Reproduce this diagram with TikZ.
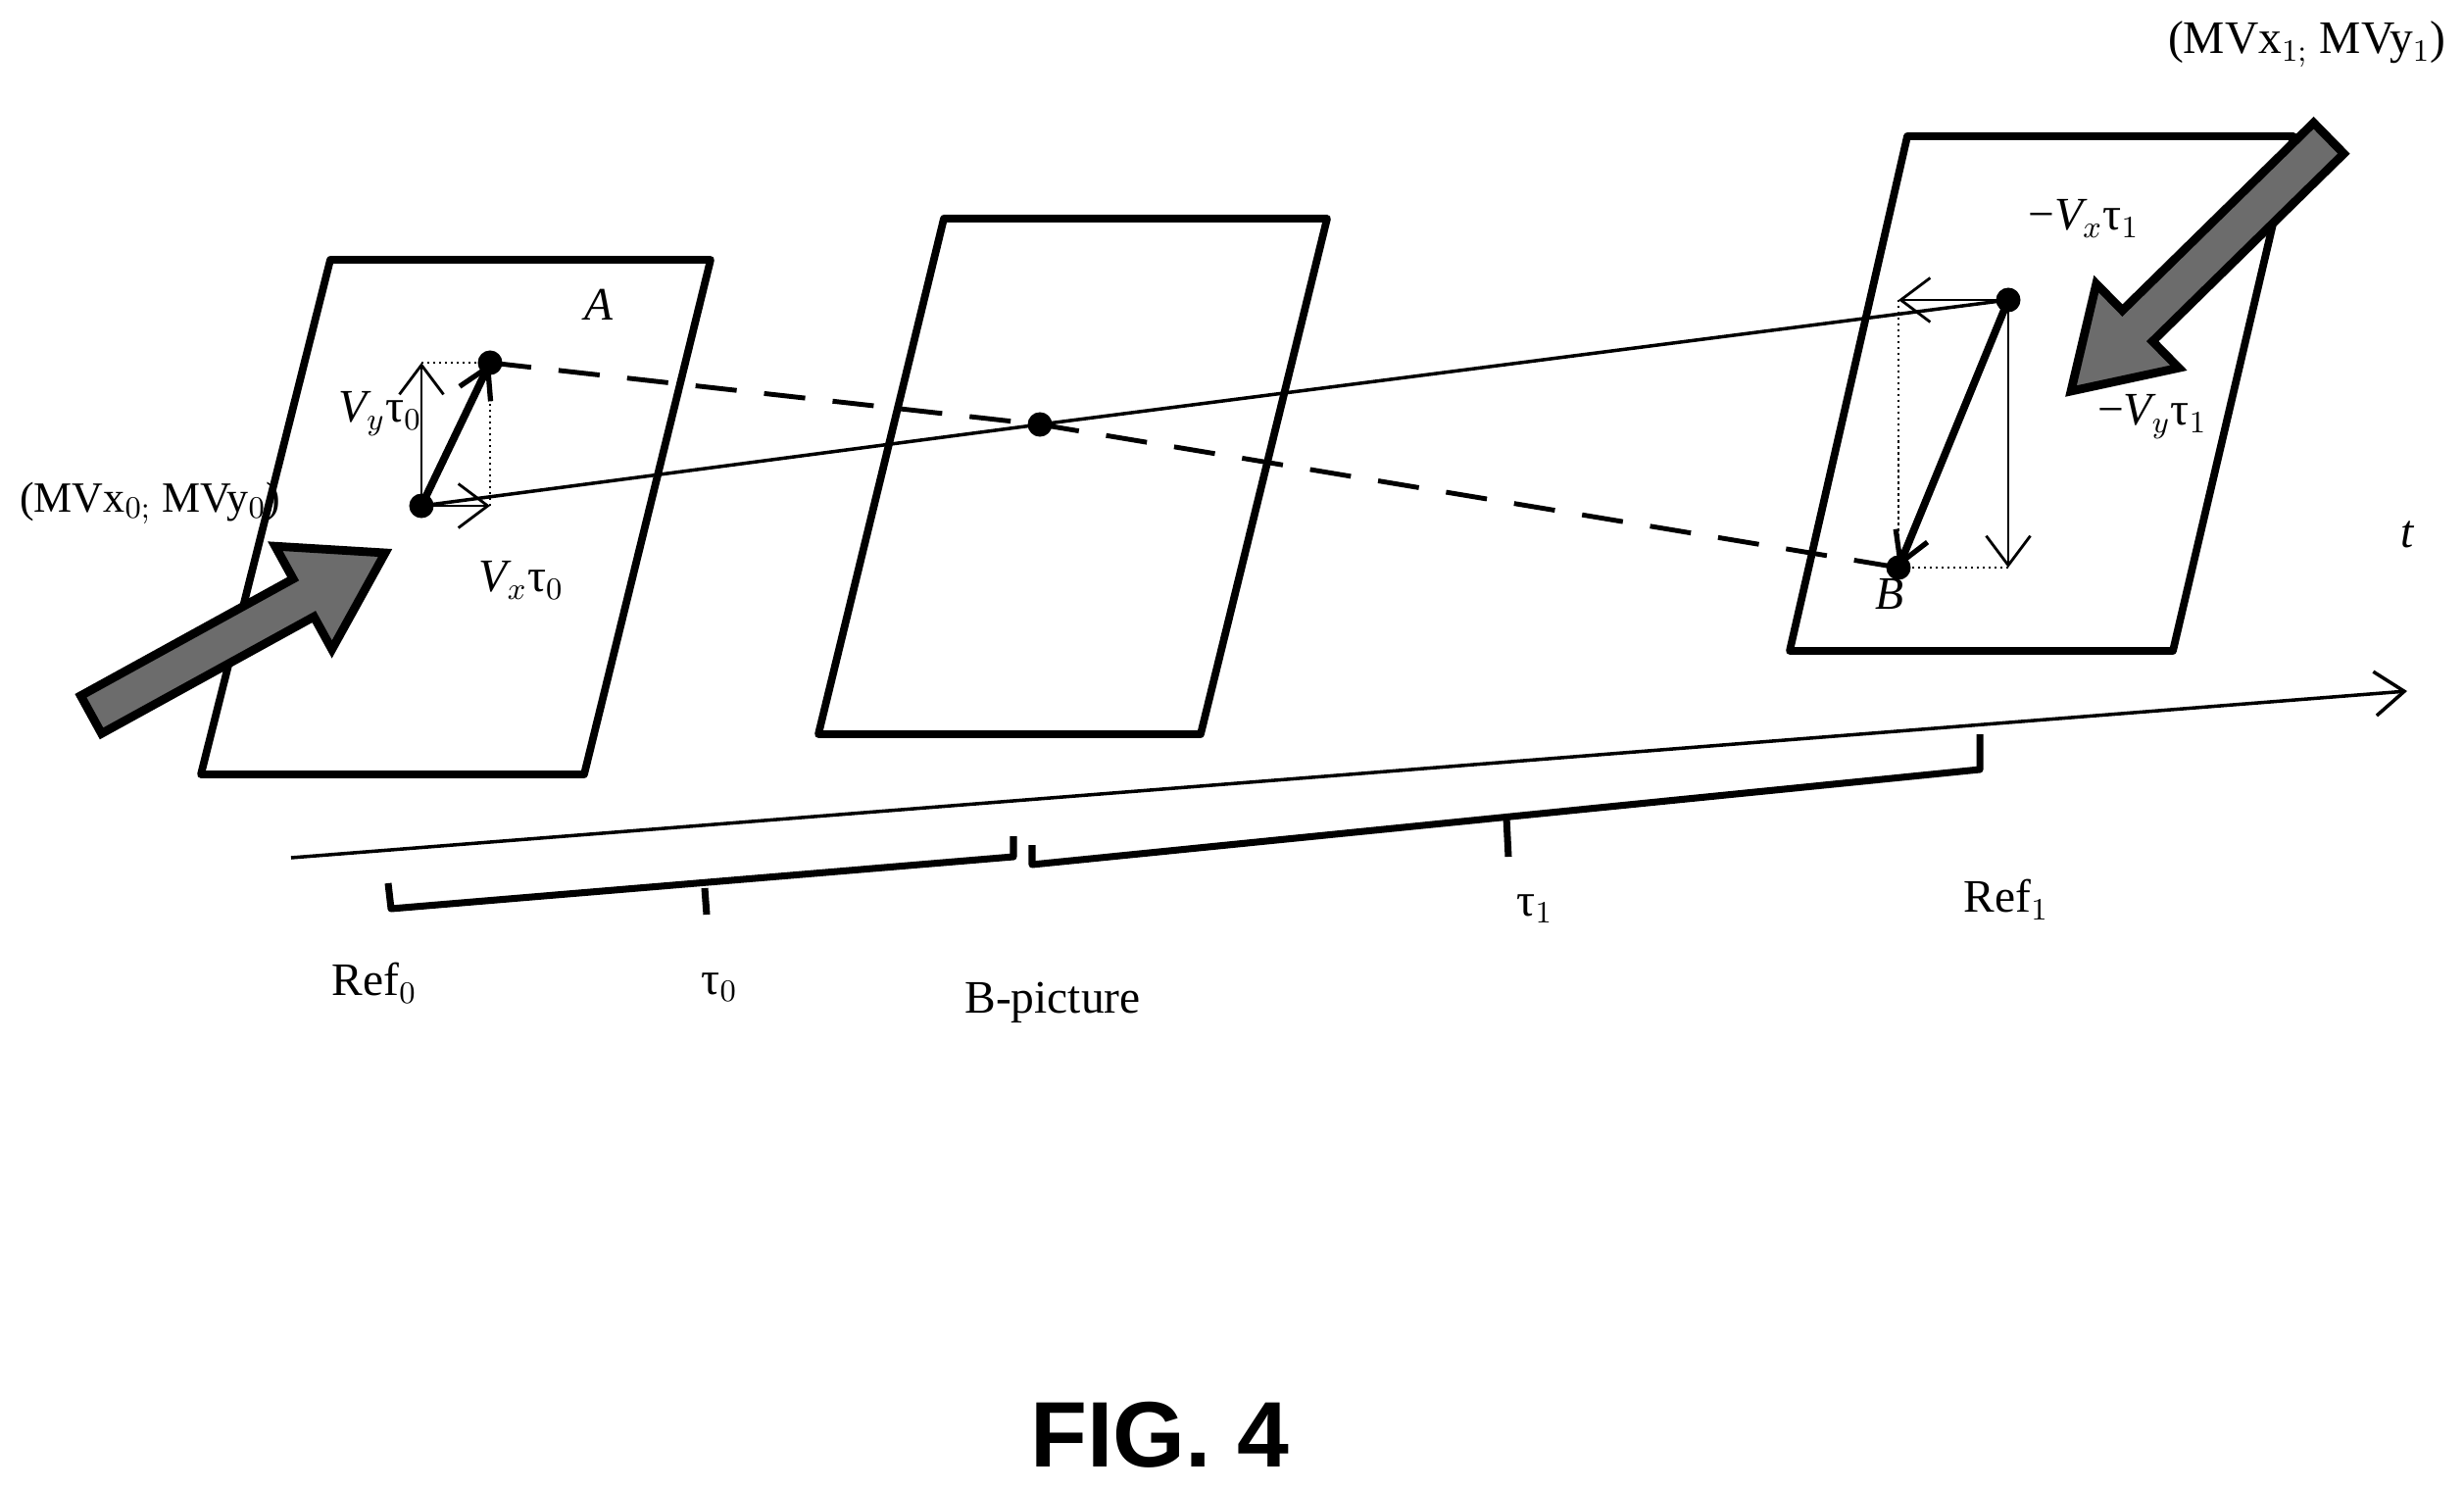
\documentclass[tikz,border=0pt]{standalone}
\usepackage{fontspec}
\setmainfont{Liberation Serif}
\newfontfamily\figfont{Liberation Sans}
\usetikzlibrary{calc,arrows.meta}
\begin{document}
\begin{tikzpicture}[x=0.01cm,y=-0.01cm,
  frame/.style={line width=2.2pt,line join=round},
  dot/.style={circle,fill=black,inner sep=0pt,minimum size=0.25cm},
  vec/.style={line width=2.2pt,-{Straight Barb[length=0.3cm,width=0.35cm,line width=1.5pt]}},
  comp/.style={line width=0.8pt,-{Straight Barb[length=0.3cm,width=0.45cm,line width=0.8pt]}},
  guide/.style={densely dotted,line width=0.7pt},
  brace/.style={line width=2pt,line join=round},
  big/.style={fill=gray!85!black,draw=black,line width=2.5pt,line join=miter},
  lbl/.style={font=\fontsize{13.5}{15}\selectfont,inner sep=1pt}]
\useasboundingbox (0,0) rectangle (2514,1521);
% frames
\draw[frame] (337,265)--(725,265)--(596,790)--(205,790)--cycle;
\draw[frame] (963,223)--(1354,223)--(1225,749)--(835,749)--cycle;
\draw[frame] (1946,139)--(2340,139)--(2217,664)--(1826,664)--cycle;
% points
\node[dot] (a0) at (430,516) {};
\node[dot] (a1) at (500,370) {};
\node[dot] (m) at (1061,433) {};
\node[dot] (r0) at (2049,306) {};
\node[dot] (b) at (1937,579) {};
\coordinate (ax) at (500,516);
\coordinate (ay) at (430,370);
\coordinate (rx) at (1937,306);
\coordinate (ry) at (2049,579);
% lines
\draw[line width=1pt] (a0.center) -- (m.center) -- (r0.center);
\draw[line width=1.4pt,dash pattern=on 12pt off 8pt] (a1.center) -- (m.center) -- (b.center);
\draw[guide] (ay) -- (a1.center);
\draw[guide] (ax) -- (a1.center);
\draw[guide] (rx) -- (b.center);
\draw[guide] (ry) -- (b.center);
\draw[comp] (a0.center) -- (ay);
\draw[comp] (a0.center) -- (ax);
\draw[comp] (r0.center) -- (rx);
\draw[comp] (r0.center) -- (ry);
\draw[vec] (a0.center) -- (a1.center);
\draw[vec] (r0.center) -- (b.center);
% big arrows
\coordinate (tl) at (93,729); \coordinate (hl) at (393,564);
\coordinate (tr) at (2376,141); \coordinate (hr) at (2113,399);
\foreach \t/\h in {tl/hl,tr/hr}{
  \coordinate (H) at ($(\h)!0.95cm!(\t)$);
  \draw[big] ($(\t)!0.22cm!90:(\h)$) -- ($(H)!0.22cm!-90:(\t)$) -- ($(H)!0.6cm!-90:(\t)$) -- (\h)
     -- ($(H)!0.6cm!90:(\t)$) -- ($(H)!0.22cm!90:(\t)$) -- ($(\t)!0.22cm!-90:(\h)$) -- cycle;
}
% time axis
\coordinate (t0) at (297,875); \coordinate (t1) at (2456,705);
\draw[line width=1pt,-{Straight Barb[length=0.3cm,width=0.45cm,line width=1pt]}] (t0) -- (t1);
% braces
\draw[brace] (396,901)--(399,927)--(1034,874)--(1034,853);
\draw[brace] (719,906)--(721,933);
\draw[brace] (1053,862)--(1053,882)--(2020,785)--(2020,749);
\draw[brace] (1537,834)--(1539,874);
% labels
\node[lbl] (lref0) at (382,1003) {Ref$_0$};
\node[lbl] (ltau0) at (734,1007) {τ$_0$};
\node[lbl] (lbp) at (1074,1023) {B-picture};
\node[lbl] (ltau1) at (1566,927) {τ$_1$};
\node[lbl] (lref1) at (2047,918) {Ref$_1$};
\node[lbl] (lt) at (2456,545) {\itshape t};
\node[lbl] (lA) at (611,311) {\itshape A};
\node[lbl] (lB) at (1928,606) {\itshape B};
\node[lbl] (lvy) at (388,422) {\itshape V$_y$\upshape τ$_0$};
\node[lbl] (lvx) at (532,592) {\itshape V$_x$\upshape τ$_0$};
\node[lbl] (lmvx) at (2126,223) {−\itshape V$_x$\upshape τ$_1$};
\node[lbl] (lmvy) at (2196,425) {−\itshape V$_y$\upshape τ$_1$};
\node[lbl,anchor=west,font=\fontsize{12.5}{14}\selectfont] (lmv0) at (16,513) {(MVx$_{0;}$ MVy$_0$)};
\node[lbl,anchor=east] (lmv1) at (2500,45) {(MVx$_{1;}$ MVy$_1$)};
\node (fig) at (1183,1464) {\figfont\bfseries\fontsize{27}{30}\selectfont FIG. 4};
\end{tikzpicture}
\end{document}
